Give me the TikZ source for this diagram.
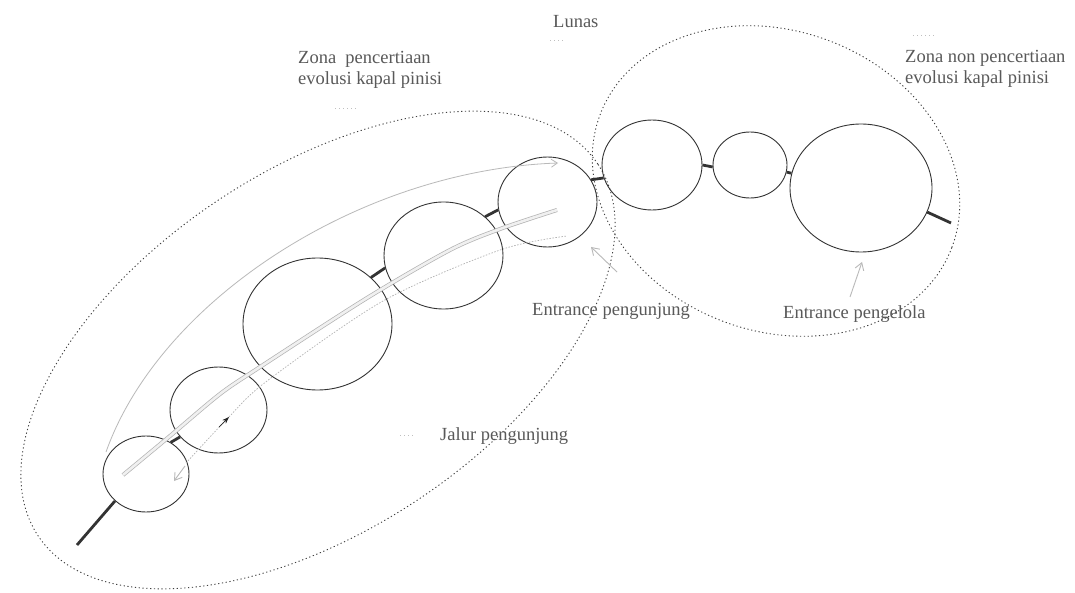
\documentclass[tikz,border=0pt]{standalone}
\usepackage{fontspec}
\setmainfont{Liberation Serif}
\usetikzlibrary{shapes.geometric, arrows.meta}

\begin{document}
\begin{tikzpicture}[x=1pt, y=-1pt,
  room/.style={ellipse, draw=black!80, line width=0.9pt, inner sep=0pt},
  zone/.style={ellipse, draw=black!75, line width=0.9pt, dash pattern=on 1.2pt off 2.6pt, inner sep=0pt},
  link/.style={draw=black!80, line width=2.8pt},
  txt/.style={text=black!65, inner sep=0pt, font=\fontsize{18.5}{21}\selectfont},
  route/.style={draw=gray!55, line width=0.8pt},
  band/.style={draw=gray!60, double=gray!12, double distance=2.6pt, line width=0.7pt},
  walk/.style={draw=gray!60, line width=0.7pt, dash pattern=on 1.5pt off 1.5pt},
  entry/.style={draw=gray!55, line width=0.9pt, -{Straight Barb[length=7pt,width=9pt]}},
  stub/.style={draw=gray!50, line width=0.8pt, dash pattern=on 1pt off 3pt},
]
\useasboundingbox[fill=white] (0,0) rectangle (1075,593);

% the two zones
\node[zone, minimum width=672pt, minimum height=360pt, rotate=33.6] (zoneL) at (318,350) {};
\node[zone, minimum width=376pt, minimum height=300pt, rotate=-20.7] (zoneR) at (776,181) {};

% rooms along the hull line
\node[room, minimum width=86pt,  minimum height=76pt]  (r1) at (146,474) {};
\node[room, minimum width=97pt,  minimum height=86pt]  (r2) at (218.5,410) {};
\node[room, minimum width=149pt, minimum height=132pt] (r3) at (317.5,324) {};
\node[room, minimum width=119pt, minimum height=107pt] (r4) at (443.5,255.5) {};
\node[room, minimum width=99pt,  minimum height=90pt]  (r5) at (547.5,202) {};
\node[room, minimum width=100pt, minimum height=90pt]  (r6) at (652,165) {};
\node[room, minimum width=74pt,  minimum height=66pt]  (r7) at (750,165) {};
\node[room, minimum width=142pt, minimum height=128pt] (r8) at (861,188) {};

% short passages between rooms
\draw[link] (r1.52) -- (r2.215);
\draw[link] (r3.41) -- (r4.192);
\draw[link] (r4.43) -- (r5.189);
\draw[link] (r5.27) -- (r6.195);
\draw[link] (r6.0) -- (r7.183);
\draw[link] (r7.349) -- (r8.168);
\coordinate (tailA) at (77,545);
\coordinate (tailB) at (951,223);
\draw[link] (r1.221) -- (tailA);
\draw[link] (r8.340) -- (tailB);

% visitor routes
\coordinate (routeA) at (106,452);
\coordinate (routeB) at (558,163);
\draw[route, -{Straight Barb[length=6pt,width=8pt]}] (routeA) .. controls (160,300) and (360,170) .. (routeB);
\draw[band] plot[smooth] coordinates
  {(123,475) (170,436) (220,394) (260,367) (367,298) (450,250) (500,229) (557,210)};
\draw[walk] plot[smooth] coordinates
  {(186,463) (227,419) (267,381) (383,301) (500,250) (567,236)};
% direction mark on the inner walk
\coordinate (walkA) at (219,427);
\coordinate (walkB) at (229,417);
\draw[draw=black!85, line width=0.7pt, -{Stealth[length=7pt,width=5pt]}] (walkA) -- (walkB);

% entrance arrows
\coordinate (startIn) at (185,466);
\coordinate (startTip) at (174,481);
\draw[entry] (startIn) -- (startTip);
\coordinate (visTail) at (617,272);
\coordinate (visTip) at (591,247);
\draw[entry] (visTail) -- (visTip);
\coordinate (mgrTail) at (850,297);
\coordinate (mgrTip) at (862,262);
\draw[entry] (mgrTail) -- (mgrTip);

% labels
\node[txt, anchor=base west] (lunas) at (553,28) {Lunas};
\node[txt, anchor=north west, align=left] (zonaA) at (298,50.8) {Zona\ \ pencertiaan\\evolusi kapal pinisi};
\node[txt, anchor=north west, align=left] (zonaB) at (905,49.8) {Zona non pencertiaan\\evolusi kapal pinisi};
\node[txt, anchor=base west] (entA) at (532,316) {Entrance pengunjung};
\node[txt, anchor=base west] (entB) at (783,319) {Entrance pengelola};
\node[txt, anchor=base west] (jalur) at (440,440) {Jalur pengunjung};

% small leader marks
\draw[stub] (550,40) -- (564,40);
\draw[stub] (335,108) -- (358,108);
\draw[stub] (913,35) -- (935,35);
\draw[stub] (400,435) -- (415,435);
\end{tikzpicture}
\end{document}
